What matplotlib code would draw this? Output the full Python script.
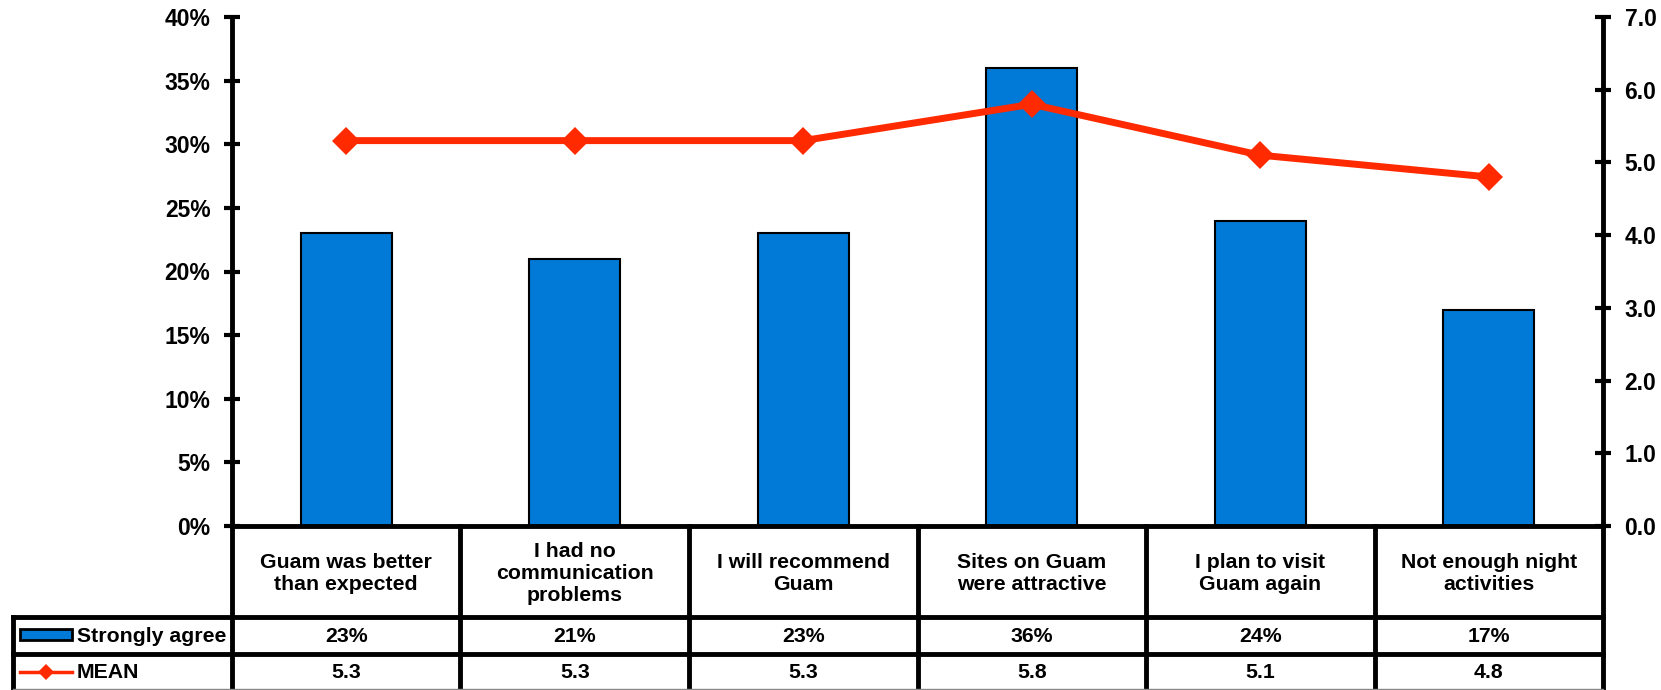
import matplotlib
matplotlib.use("Agg")
import matplotlib.pyplot as plt
from matplotlib.patches import Rectangle
from matplotlib.lines import Line2D
from matplotlib.ticker import FuncFormatter, MultipleLocator

plt.rcParams['font.family'] = ['Liberation Sans', 'DejaVu Sans']
plt.rcParams['font.weight'] = 'bold'

categories = ["Guam was better\nthan expected", "I had no\ncommunication\nproblems",
              "I will recommend\nGuam", "Sites on Guam\nwere attractive",
              "I plan to visit\nGuam again", "Not enough night\nactivities"]
strongly_agree = [23, 21, 23, 36, 24, 17]
mean_score = [5.3, 5.3, 5.3, 5.8, 5.1, 4.8]
series_names = ["Strongly agree", "MEAN"]

BAR_COLOR = "#007ad6"
LINE_COLOR = "#ff2a00"
TICK_FS = 16.5
TABLE_FS = 15.3

W, H = 1661, 690
fig = plt.figure(figsize=(W / 100, H / 100), dpi=100)

ax_left, ax_right, ax_bottom, ax_top = 232, 1603, 526, 17
ax = fig.add_axes([ax_left / W, 1 - ax_bottom / H, (ax_right - ax_left) / W, (ax_bottom - ax_top) / H])
n = len(categories)
x = list(range(n))
ax.bar(x, strongly_agree, width=0.40, color=BAR_COLOR, edgecolor="black", linewidth=1.5, zorder=2)
ax.set_xlim(-0.5, n - 0.5)
ax.set_ylim(0, 40)
ax.yaxis.set_major_locator(MultipleLocator(5))
ax.yaxis.set_major_formatter(FuncFormatter(lambda v, p: f"{v:.0f}%"))
ax.set_xticks([])
for s in ["top", "right"]:
    ax.spines[s].set_visible(False)
for s in ["left", "bottom"]:
    ax.spines[s].set_linewidth(3.5)
ax.tick_params(axis="y", direction="inout", length=11, width=3, labelsize=TICK_FS, pad=10)

ax2 = ax.twinx()
ax2.plot(x, mean_score, color=LINE_COLOR, linewidth=5, marker="D", markersize=14,
         markeredgewidth=0, zorder=3)
ax2.set_ylim(0, 7)
ax2.yaxis.set_major_locator(MultipleLocator(1))
ax2.yaxis.set_major_formatter(FuncFormatter(lambda v, p: f"{v:.1f}"))
for s in ["top", "left", "bottom"]:
    ax2.spines[s].set_visible(False)
ax2.spines["right"].set_linewidth(3.5)
ax2.tick_params(axis="y", direction="inout", length=11, width=3, labelsize=TICK_FS, pad=10)
for lbl in ax.get_yticklabels() + ax2.get_yticklabels():
    lbl.set_fontweight("bold")

# Data table under the plot, in category units horizontally and pixel rows vertically
tbl_left = 13
cat_w = (ax_right - ax_left) / n
x0 = -0.5 - (ax_left - tbl_left) / cat_w
tax = fig.add_axes([tbl_left / W, 0, (ax_right - tbl_left) / W, (H - ax_bottom) / H])
tax.set_xlim(x0, n - 0.5)
tax.set_ylim(H, ax_bottom)
tax.axis("off")

row_head = (ax_bottom, 617)
row1 = (617, 654)
row2 = (654, 690)
lw = 3.5
kw = dict(color="black", linewidth=lw, solid_capstyle="projecting", clip_on=False)
# vertical separators
for i in range(n + 1):
    tax.plot([i - 0.5, i - 0.5], [ax_bottom, H], **kw)
tax.plot([x0, x0], [row1[0], H], **kw)
# horizontal rules
tax.plot([x0, n - 0.5], [row1[0], row1[0]], **kw)
tax.plot([x0, n - 0.5], [row2[0], row2[0]], **kw)
tax.plot([x0, n - 0.5], [H - 1, H - 1], color="#888888", linewidth=1, clip_on=False)

for i, c in enumerate(categories):
    tax.text(i, sum(row_head) / 2 + 2, c, ha="center", va="center", fontsize=TABLE_FS,
             fontweight="bold", linespacing=1.2)
    tax.text(i, sum(row1) / 2 + 1, f"{strongly_agree[i]}%", ha="center", va="center",
             fontsize=TABLE_FS, fontweight="bold")
    tax.text(i, sum(row2) / 2 + 1, f"{mean_score[i]:.1f}", ha="center", va="center",
             fontsize=TABLE_FS, fontweight="bold")

# legend keys inside the first column
kx0 = x0 + (20 - tbl_left) / cat_w
kx1 = x0 + (72 - tbl_left) / cat_w
tax.add_patch(Rectangle((kx0, 629), kx1 - kx0, 11, facecolor=BAR_COLOR,
                        edgecolor="black", linewidth=2, clip_on=False))
tax.add_line(Line2D([kx0, kx1], [sum(row2) / 2, sum(row2) / 2], color=LINE_COLOR,
                    linewidth=2.5, clip_on=False))
tax.plot([(kx0 + kx1) / 2], [sum(row2) / 2], marker="D", color=LINE_COLOR,
         markersize=8, markeredgewidth=0, clip_on=False)
tx = x0 + (77 - tbl_left) / cat_w
tax.text(tx, sum(row1) / 2 + 1, series_names[0], ha="left", va="center",
         fontsize=TABLE_FS, fontweight="bold")
tax.text(tx, sum(row2) / 2 + 1, series_names[1], ha="left", va="center",
         fontsize=TABLE_FS, fontweight="bold")

fig.savefig("out.png", dpi=100)
